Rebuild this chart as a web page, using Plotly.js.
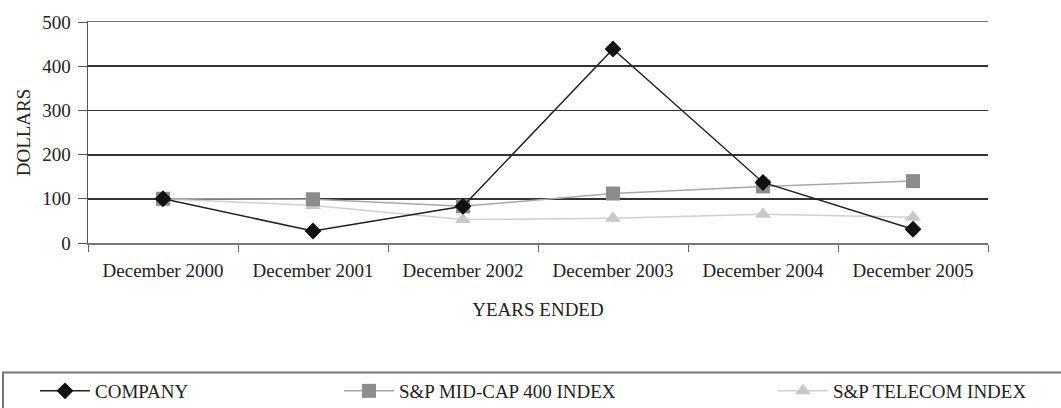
<!DOCTYPE html>
<html><head><meta charset="utf-8">
<script src="https://cdn.plot.ly/plotly-3.0.1.min.js"></script>
<style>html,body{margin:0;padding:0;background:#fff}</style>
</head><body>
<div id="chart" style="width:1061px;height:408px"></div>
<script>
const categories = ["December 2000","December 2001","December 2002","December 2003","December 2004","December 2005"];
const company = [100, 27, 83, 439, 137, 31];
const midcap = [100, 99, 83, 112, 128, 140];
const telecom = [100, 85, 53, 56, 65, 58];
const yTicks = [0, 100, 200, 300, 400, 500];

const F = "Liberation Serif";
const FS = 19;
const traces = [
  {x: categories, y: telecom, name: "S&P TELECOM INDEX", mode: "lines+markers", legend: "legend3",
   line: {color: "#cfcfcf", width: 1.5}, marker: {symbol: "triangle-up", size: 14, color: "#c8c8c8"}},
  {x: categories, y: midcap, name: "S&P MID-CAP 400 INDEX", mode: "lines+markers", legend: "legend2",
   line: {color: "#a8a8a8", width: 1.5}, marker: {symbol: "square", size: 14, color: "#8c8c8c"}},
  {x: categories, y: company, name: "COMPANY", mode: "lines+markers", legend: "legend",
   line: {color: "#222", width: 1.5}, marker: {symbol: "diamond", size: 13, color: "#111"}}
];
const lg = (px) => ({x: px / 1061, xref: "container", xanchor: "left", y: 1 - 391 / 408, yref: "container", yanchor: "middle",
  orientation: "h", bgcolor: "rgba(0,0,0,0)", borderwidth: 0, itemwidth: 50,
  font: {family: F, size: FS, color: "#222"}});
const layout = {
  width: 1061, height: 408,
  margin: {l: 88, r: 73, t: 22, b: 165, autoexpand: false},
  paper_bgcolor: "#fff", plot_bgcolor: "#fff",
  font: {family: F, size: FS, color: "#222"},
  xaxis: {type: "category", range: [-0.5, 5.5], tickson: "boundaries", ticks: "outside", ticklen: 7, tickcolor: "#666",
    showline: true, linecolor: "#777", linewidth: 1.5, mirror: true, showgrid: false,
    ticklabelstandoff: 10, automargin: false,
    tickfont: {family: F, size: FS, color: "#222"},
    title: {text: "YEARS ENDED", font: {family: F, size: FS, color: "#222"}, standoff: 22}},
  yaxis: {range: [0, 500], tickvals: yTicks, ticks: "outside", ticklen: 9, tickcolor: "#555",
    showline: true, linecolor: "#555", linewidth: 1.5, gridcolor: "#333", gridwidth: 1.8,
    zeroline: false, automargin: false, ticklabelstandoff: 3, tickfont: {family: F, size: FS, color: "#222"},
    title: {text: "DOLLARS", font: {family: F, size: FS, color: "#222"}, standoff: 6}},
  showlegend: true,
  legend: lg(35), legend2: lg(339), legend3: lg(773),
  shapes: [{type: "rect", xref: "paper", yref: "paper", x0: (3 - 88) / 900, x1: (1070 - 88) / 900,
    y0: (243 - 373) / 222, y1: (243 - 415) / 222, line: {color: "#777", width: 2}}]
};
Plotly.newPlot("chart", traces, layout, {staticPlot: true, displayModeBar: false});
</script>
</body></html>
